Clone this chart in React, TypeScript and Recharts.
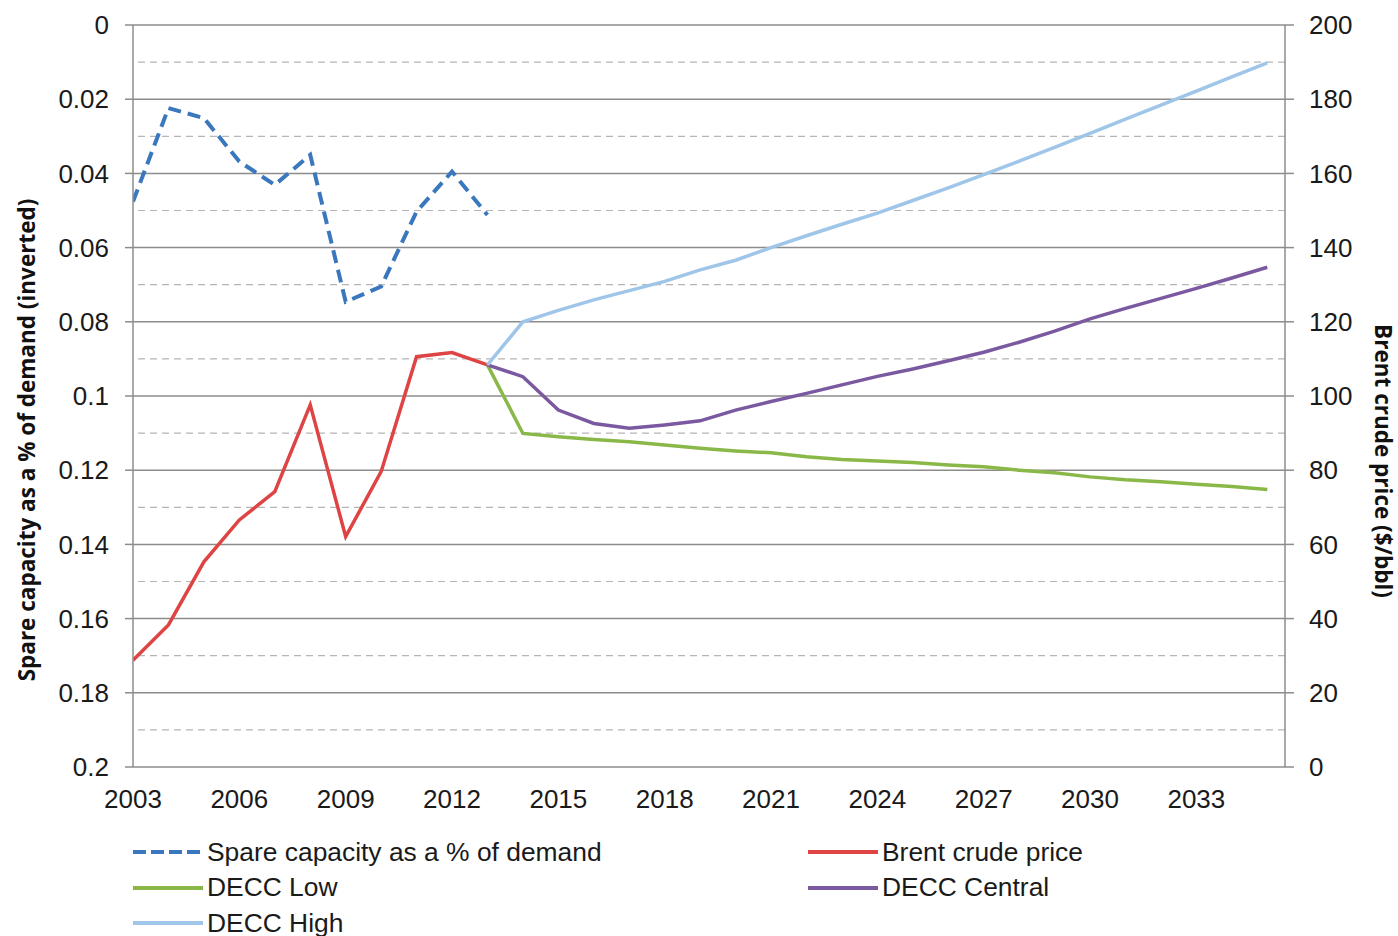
import React from 'react';
import { LineChart, Line, XAxis, YAxis, ReferenceLine, Legend } from 'recharts';

const years = [
  2003, 2004, 2005, 2006, 2007, 2008, 2009, 2010, 2011, 2012, 2013, 2014, 2015, 2016, 2017, 2018, 2019,
  2020, 2021, 2022, 2023, 2024, 2025, 2026, 2027, 2028, 2029, 2030, 2031, 2032, 2033, 2034, 2035,
];

// 2003-2013, left axis (inverted)
const spareCapacity = [0.0476, 0.0224, 0.0251, 0.0368, 0.0431, 0.035, 0.0746, 0.0705, 0.0503, 0.0395, 0.0512];
// 2003-2013, $/bbl
const brentPrice = [28.8, 38.3, 55.3, 66.6, 74.2, 97.6, 62.1, 79.6, 110.6, 111.7, 108.4];

// DECC projections 2013-2035
const deccStartYear = 2013;
const deccLow = [
  108.4, 89.9, 89.0, 88.3, 87.7, 86.8, 85.9, 85.2, 84.7, 83.6, 82.9, 82.5, 82.1, 81.4, 80.9, 80.0, 79.3,
  78.2, 77.4, 76.9, 76.2, 75.6, 74.8,
];
const deccCentral = [
  108.4, 105.2, 96.2, 92.6, 91.3, 92.2, 93.3, 96.2, 98.5, 100.7, 103.0, 105.3, 107.3, 109.5, 111.8, 114.5,
  117.5, 120.8, 123.6, 126.3, 129.0, 131.8, 134.7,
];
const deccHigh = [
  108.4, 120.0, 123.1, 125.9, 128.4, 130.9, 134.0, 136.6, 140.0, 143.2, 146.3, 149.3, 152.7, 156.1, 159.7,
  163.3, 167.0, 170.8, 174.6, 178.4, 182.2, 186.0, 189.8,
];

const yearTicks = [2003, 2006, 2009, 2012, 2015, 2018, 2021, 2024, 2027, 2030, 2033];
const spareTicks = [0, 0.02, 0.04, 0.06, 0.08, 0.1, 0.12, 0.14, 0.16, 0.18, 0.2];
const priceTicks = [0, 20, 40, 60, 80, 100, 120, 140, 160, 180, 200];
const majorGrid = [20, 40, 60, 80, 100, 120, 140, 160, 180, 200];
const minorGrid = [10, 30, 50, 70, 90, 110, 130, 150, 170, 190];

const data = years.map((year, i) => {
  const j = year - deccStartYear;
  return {
    year,
    spare: i < spareCapacity.length ? spareCapacity[i] : null,
    brent: i < brentPrice.length ? brentPrice[i] : null,
    low: j >= 0 ? deccLow[j] : null,
    central: j >= 0 ? deccCentral[j] : null,
    high: j >= 0 ? deccHigh[j] : null,
  };
});

const series = [
  { key: 'spare', name: 'Spare capacity as a % of demand', color: '#3a77bd', dash: '13 7', axis: 'left' },
  { key: 'brent', name: 'Brent crude price', color: '#de4444', dash: undefined, axis: 'right' },
  { key: 'low', name: 'DECC Low', color: '#8ab848', dash: undefined, axis: 'right' },
  { key: 'central', name: 'DECC Central', color: '#7b59a0', dash: undefined, axis: 'right' },
  { key: 'high', name: 'DECC High', color: '#9fc6e9', dash: undefined, axis: 'right' },
];

const font = '"Liberation Sans", Arial, sans-serif';
const titleFont = '"Open Sans", Lato, sans-serif';
const tickStyle = { fontSize: 26, fill: '#1a1a1a', fontFamily: font };
const axisColor = '#8c8c8c';

const renderLegend = () => (
  <div style={{ position: 'relative', width: 1398, height: 119, fontFamily: font, fontSize: 26.4, color: '#1a1a1a' }}>
    {series.map((s, i) => {
      const col = i % 2;
      const row = Math.floor(i / 2);
      return (
        <div
          key={s.key}
          style={{
            position: 'absolute',
            left: col === 0 ? 131 : 806,
            top: 17.5 + row * 35.5,
            height: 35,
            display: 'flex',
            alignItems: 'center',
            whiteSpace: 'nowrap',
          }}
        >
          <svg width={72} height={10} style={{ marginRight: 4 }}>
            <line x1={2} y1={5} x2={72} y2={5} stroke={s.color} strokeWidth={4} strokeDasharray={s.key === 'spare' ? '13 5' : undefined} />
          </svg>
          <span>{s.name}</span>
        </div>
      );
    })}
  </div>
);

const leftTitle = () => (
  <text
    x={26}
    y={440}
    transform="rotate(-90 26 440)"
    textAnchor="middle"
    dominantBaseline="central"
    style={{ fontFamily: titleFont, fontWeight: 700, fontSize: 22.5, fill: '#111' }}
  >
    Spare capacity as a % of demand (inverted)
  </text>
);

const rightTitle = () => (
  <text
    x={1383}
    y={461}
    transform="rotate(90 1383 461)"
    textAnchor="middle"
    dominantBaseline="central"
    style={{ fontFamily: titleFont, fontWeight: 700, fontSize: 22.5, fill: '#111' }}
  >
    Brent crude price ($/bbl)
  </text>
);

export default function App() {
  return (
    <div style={{ position: 'absolute', left: 0, top: 0, width: 1398, height: 936, background: '#fff' }}>
      <LineChart width={1398} height={936} data={data} margin={{ top: 25, right: 0, bottom: 0, left: 0 }}>
        {minorGrid.map((v) => (
          <ReferenceLine key={`mi${v}`} yAxisId="right" y={v} stroke="#b5b5b5" strokeDasharray="7 5" strokeWidth={1.2} />
        ))}
        {majorGrid.map((v) => (
          <ReferenceLine key={`ma${v}`} yAxisId="right" y={v} stroke={axisColor} strokeWidth={1.5} />
        ))}
        <XAxis
          dataKey="year"
          type="number"
          domain={[2003, 2035.5]}
          ticks={yearTicks}
          allowDataOverflow
          height={50}
          tick={tickStyle}
          tickLine={false}
          tickSize={0}
          tickMargin={23}
          axisLine={{ stroke: axisColor, strokeWidth: 1.5 }}
        />
        <YAxis
          yAxisId="left"
          orientation="left"
          reversed
          domain={[0, 0.2]}
          ticks={spareTicks}
          width={133}
          tick={tickStyle}
          tickSize={8}
          tickMargin={16}
          tickLine={{ stroke: axisColor, strokeWidth: 1.5 }}
          axisLine={{ stroke: axisColor, strokeWidth: 1.5 }}
          tickFormatter={(v: number) => String(Number(v.toFixed(2)))}
          label={{ content: leftTitle }}
        />
        <YAxis
          yAxisId="right"
          orientation="right"
          domain={[0, 200]}
          ticks={priceTicks}
          width={113}
          tick={tickStyle}
          tickSize={9}
          tickMargin={15}
          tickLine={{ stroke: axisColor, strokeWidth: 1.5 }}
          axisLine={{ stroke: axisColor, strokeWidth: 1.5 }}
          label={{ content: rightTitle }}
        />
        {series.map((s) => (
          <Line
            key={s.key}
            yAxisId={s.axis}
            dataKey={s.key}
            name={s.name}
            type="linear"
            stroke={s.color}
            strokeWidth={s.key === 'spare' ? 4 : 3.5}
            strokeDasharray={s.dash}
            dot={false}
            activeDot={false}
            connectNulls={false}
            isAnimationActive={false}
          />
        ))}
        <Legend verticalAlign="bottom" content={renderLegend} wrapperStyle={{ left: 0, width: 1398 }} />
      </LineChart>
    </div>
  );
}
